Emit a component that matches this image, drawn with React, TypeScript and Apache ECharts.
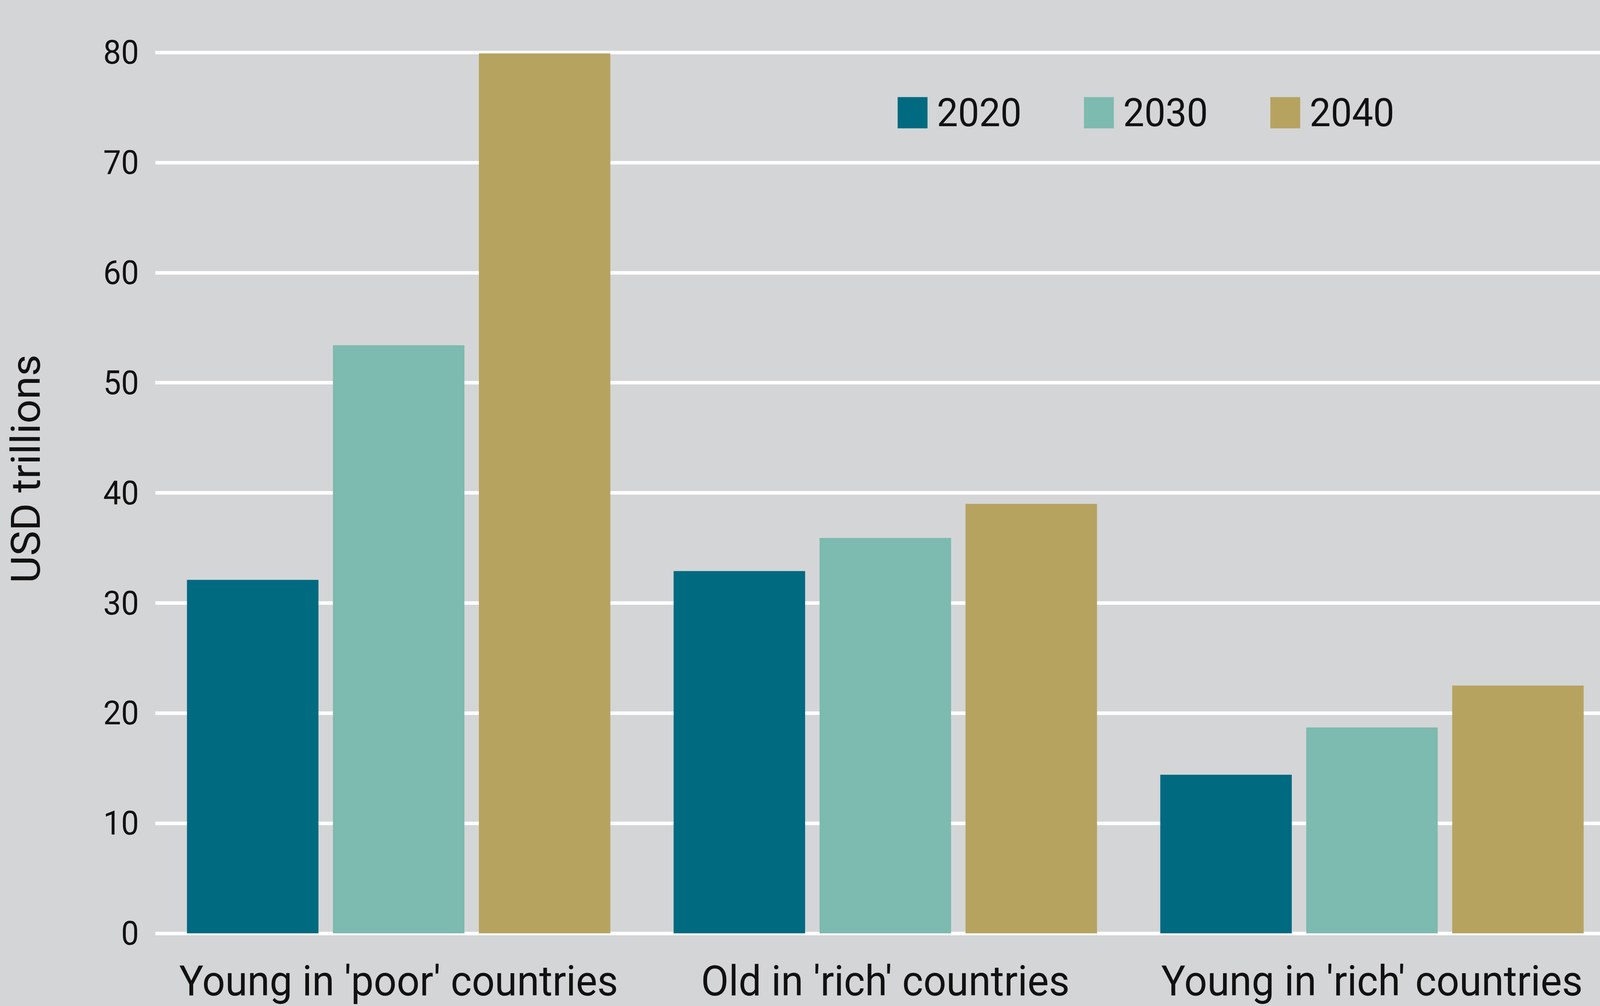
import React, { useEffect, useRef } from "react";
import * as echarts from "echarts";

const categories = ["Young in 'poor' countries", "Old in 'rich' countries", "Young in 'rich' countries"];
const seriesNames = ["2020", "2030", "2040"];
const values2020 = [32.1, 32.9, 14.4];
const values2030 = [53.4, 35.9, 18.7];
const values2040 = [79.9, 39.0, 22.5];
const colors = ["#006A80", "#7DBAAF", "#B7A360"];
const yTicks = { min: 0, max: 80, interval: 10 };

const FONT = "Roboto, 'Noto Sans', sans-serif";
const W = 4285;
const H = 2575;

export default function App() {
  const ref = useRef<HTMLDivElement>(null);
  const sx = typeof window !== "undefined" && window.innerWidth > 0 ? Math.min(1, window.innerWidth / W) : 1;
  useEffect(() => {
    if (!ref.current) return;
    const chart = echarts.init(ref.current, null, { renderer: "svg" });
    const data = [values2020, values2030, values2040];
    chart.setOption({
      animation: false,
      backgroundColor: "#D4D5D7",
      textStyle: { fontFamily: FONT, color: "#111" },
      grid: {
        left: 416,
        top: 134,
        width: 3910,
        height: 2255,
        containLabel: false,
        outerBoundsMode: "none",
      },
      legend: {
        left: 2404,
        top: 238,
        padding: 0,
        itemWidth: 80,
        itemHeight: 80,
        itemGap: 167,
        icon: "rect",
        textStyle: { fontSize: 101, color: "#111", fontFamily: FONT, padding: [0, 0, 0, 20] },
        data: seriesNames,
      },
      xAxis: {
        type: "category",
        data: categories,
        axisLine: { show: false },
        axisTick: { show: false },
        axisLabel: { fontSize: 108, color: "#111", margin: 68, fontFamily: FONT, interval: 0 },
      },
      yAxis: {
        type: "value",
        min: yTicks.min,
        max: yTicks.max,
        interval: yTicks.interval,
        axisLine: { show: false },
        axisTick: { show: false },
        axisLabel: { fontSize: 85, color: "#111", margin: 44, fontFamily: FONT },
        splitLine: { show: true, lineStyle: { color: "#FFFFFF", width: 9 } },
      },
      graphic: [
        {
          type: "text",
          x: 70,
          y: 1200,
          rotation: Math.PI / 2,
          style: {
            text: "USD trillions",
            fontSize: 108,
            fontFamily: FONT,
            fill: "#111",
            align: "center",
            verticalAlign: "middle",
          },
        },
      ],
      series: seriesNames.map((name, i) => ({
        name,
        type: "bar",
        data: data[i],
        itemStyle: { color: colors[i] },
        barCategoryGap: "13%",
        barGap: "11%",
      })),
    });
    return () => chart.dispose();
  }, []);
  return (
    <div
      ref={ref}
      style={{
        position: "fixed",
        left: 0,
        top: 0,
        width: W,
        height: H,
        transform: `scaleX(${sx})`,
        transformOrigin: "0 0",
      }}
    />
  );
}
